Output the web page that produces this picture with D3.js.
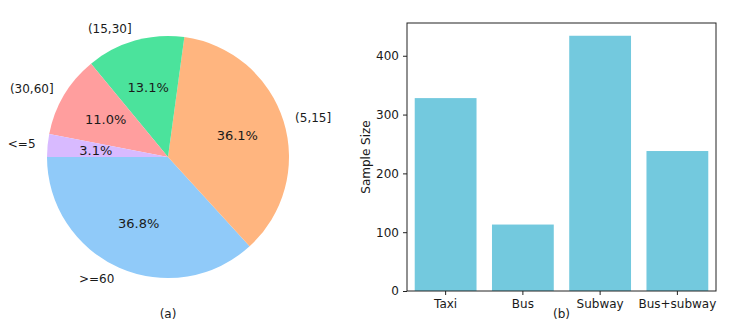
<!DOCTYPE html>
<html>
<head>
<meta charset="utf-8">
<script src="https://cdn.jsdelivr.net/npm/d3@7"></script>
<style>
  body { margin: 0; background: #fff; }
  svg text { font-family: "DejaVu Sans", sans-serif; fill: #1a1a1a; }
</style>
</head>
<body>
<div id="chart"></div>
<script>
// pie (a): travel time groups, counter-clockwise from 9 o'clock
const pieLabels = [">=60", "(5,15]", "(15,30]", "(30,60]", "<=5"];
const pieCounts = [409, 401, 146, 122, 34];
const pieColors = ["#90caf9", "#ffb57f", "#4be39c", "#ff9e9e", "#d8baff"];

// bars (b): sample size per mode
const modes = ["Taxi", "Bus", "Subway", "Bus+subway"];
const sampleSizes = [328, 113, 434, 238];
const yTicks = [0, 100, 200, 300, 400];

const width = 734, height = 336;

const svg = d3.select("#chart").append("svg")
    .attr("width", width)
    .attr("height", height);

// ---- pie ----
const cx = 168, cy = 157, radius = 121;
const pieG = svg.append("g").attr("transform", `translate(${cx},${cy})`);

const total = d3.sum(pieCounts);
const pie = d3.pie()
    .sort(null)
    .startAngle(-Math.PI / 2)
    .endAngle(-Math.PI / 2 - 2 * Math.PI);

const arcs = pie(pieCounts);
const arc = d3.arc().innerRadius(0).outerRadius(radius);
const labelArc = d3.arc().innerRadius(radius * 1.1).outerRadius(radius * 1.1);
const pctArc = d3.arc().innerRadius(radius * 0.6).outerRadius(radius * 0.6);

pieG.selectAll("path.slice")
  .data(arcs)
  .enter()
  .append("path")
    .attr("class", "slice")
    .attr("d", arc)
    .attr("fill", (d, i) => pieColors[i]);

pieG.selectAll("text.lbl")
  .data(arcs)
  .enter()
  .append("text")
    .attr("class", "lbl")
    .attr("x", d => labelArc.centroid(d)[0])
    .attr("y", d => labelArc.centroid(d)[1])
    .attr("dy", "0.35em")
    .attr("text-anchor", d => labelArc.centroid(d)[0] > 0 ? "start" : "end")
    .style("font-size", "12px")
    .text((d, i) => pieLabels[i]);

pieG.selectAll("text.pct")
  .data(arcs)
  .enter()
  .append("text")
    .attr("class", "pct")
    .attr("x", d => pctArc.centroid(d)[0])
    .attr("y", d => pctArc.centroid(d)[1])
    .attr("dy", "0.35em")
    .attr("text-anchor", "middle")
    .style("font-size", "13px")
    .text(d => (d.value / total * 100).toFixed(1) + "%");

svg.append("text")
    .attr("x", cx)
    .attr("y", 314)
    .attr("dy", "0.35em")
    .attr("text-anchor", "middle")
    .style("font-size", "12px")
    .text("(a)");

// ---- bars ----
const plot = { left: 407, right: 716, top: 23, bottom: 291 };

const x = d3.scaleBand()
    .domain(modes)
    .range([plot.left, plot.right])
    .paddingInner(0.2)
    .paddingOuter(0.1);

const y = d3.scaleLinear()
    .domain([0, d3.max(sampleSizes) * 1.05])
    .range([plot.bottom, plot.top]);

const barG = svg.append("g");

barG.selectAll("rect")
  .data(sampleSizes)
  .enter()
  .append("rect")
    .attr("x", (d, i) => x(modes[i]))
    .attr("y", d => y(d))
    .attr("width", x.bandwidth())
    .attr("height", d => y(0) - y(d))
    .attr("fill", "#73c9de");

const xAxis = svg.append("g")
    .attr("transform", `translate(0,${plot.bottom})`)
    .call(d3.axisBottom(x).tickSize(4).tickPadding(4));

const yAxis = svg.append("g")
    .attr("transform", `translate(${plot.left},0)`)
    .call(d3.axisLeft(y).tickValues(yTicks).tickSize(4).tickPadding(4));

[xAxis, yAxis].forEach(a => {
  a.select(".domain").remove();
  a.selectAll("line").attr("stroke", "#222");
  a.selectAll("text")
    .style("font-size", "12px")
    .style("font-family", "DejaVu Sans, sans-serif")
    .attr("fill", "#1a1a1a");
});

// frame
svg.append("rect")
    .attr("x", plot.left)
    .attr("y", plot.top)
    .attr("width", plot.right - plot.left)
    .attr("height", plot.bottom - plot.top)
    .attr("fill", "none")
    .attr("stroke", "#222")
    .attr("stroke-width", 1);

svg.append("text")
    .attr("transform", `translate(366,${(plot.top + plot.bottom) / 2}) rotate(-90)`)
    .attr("dy", "0.35em")
    .attr("text-anchor", "middle")
    .style("font-size", "12px")
    .text("Sample Size");

svg.append("text")
    .attr("x", (plot.left + plot.right) / 2)
    .attr("y", 314)
    .attr("dy", "0.35em")
    .attr("text-anchor", "middle")
    .style("font-size", "12px")
    .text("(b)");
</script>
</body>
</html>
